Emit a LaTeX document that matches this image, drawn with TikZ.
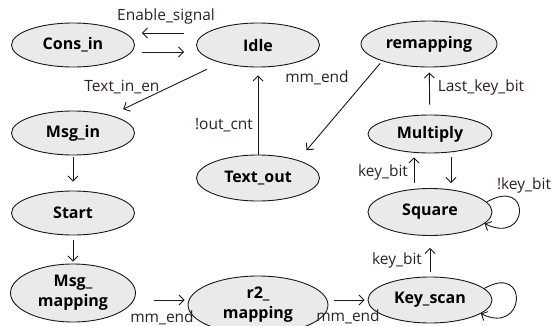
\documentclass[tikz,border=0pt]{standalone}
\usepackage{fontspec}
\setmainfont{Open Sans}
\usepackage{xcolor}
\definecolor{ColFill}{RGB}{234,234,234}
\definecolor{ColLine}{RGB}{25,25,25}
\definecolor{ColText}{RGB}{45,35,30}
\usepackage{tikz}
\usetikzlibrary{shapes.geometric}
\usetikzlibrary{arrows.meta}
\tikzstyle{State}=[ellipse,draw=ColLine,fill=ColFill,line width=0.9pt,
inner sep=0pt,minimum width=123pt,minimum height=44pt,align=center,
font=\fontsize{16}{20}\selectfont\bfseries]
\tikzstyle{Edge}=[draw=ColLine,line width=0.9pt,
-{Straight Barb[length=5pt,width=10pt]}]
\tikzstyle{EdgeLabel}=[font=\fontsize{15.5}{16}\selectfont,text=ColText,inner sep=0pt]

\begin{document}
\begin{tikzpicture}[x=1pt,y=-1pt]
    \useasboundingbox (0,0) rectangle (555,325);
        \node[State](cons)at(73,45){Cons\_in};
        \node[State](idle)at(258,45){Idle};
        \node[State,minimum width=136pt,minimum height=46pt](remap)at(429,44){remapping};
        \node[State](msgin)at(73,133){Msg\_in};
        \node[State,minimum height=46pt](textout)at(258,178){Text\_out};
        \node[State,minimum width=124pt,minimum height=38pt](multiply)at(430,134){Multiply};
        \node[State,minimum width=124pt,minimum height=47pt](square)at(430,212){Square};
        \node[State](start)at(73,213){Start};
        \node[State,minimum width=125pt,minimum height=58pt](msgmap)at(73,293){Msg\_\\mapping};
        \node[State,minimum width=140pt,minimum height=58pt](r2map)at(258,305){r2\_\\mapping};
        \node[State,minimum width=124pt,minimum height=46pt](keyscan)at(430,300){Key\_scan};
        % top row
        \draw[Edge]([xshift=-12pt,yshift=12pt]idle.west)--([xshift=7pt,yshift=12pt]cons.east);
        \draw[Edge]([xshift=7pt,yshift=-7pt]cons.east)--([xshift=-12pt,yshift=-7pt]idle.west);
        \draw[Edge,shorten <=15pt,shorten >=14pt](idle)--(msgin);
        \draw[Edge,shorten >=8pt](textout)--(idle);
        \draw[Edge,shorten <=3pt,shorten >=13pt](remap.200)--(textout.24);
        \draw[Edge,shorten <=10pt,shorten >=5pt](multiply)--(remap);
        % left column
        \draw[Edge,shorten <=2pt,shorten >=9pt](msgin)--(start);
        \draw[Edge,shorten <=5pt,shorten >=2pt](start)--(msgmap);
        % right column
        \draw[Edge,shorten <=5pt,shorten >=4pt]([xshift=-16pt]square.north)--([xshift=-16pt]multiply.south);
        \draw[Edge,shorten <=4pt,shorten >=5pt]([xshift=21pt]multiply.south)--([xshift=21pt]square.north);
        \draw[Edge,shorten <=5pt,shorten >=12pt](keyscan)--(square);
        \draw[Edge](square.10)..controls +(45,-26) and +(45,22)..(square.-12);
        \draw[Edge](keyscan.12)..controls +(45,-26) and +(45,22)..(keyscan.-15);
        % bottom row
        \draw[Edge,shorten <=18pt,shorten >=3pt](msgmap.east|-keyscan)--(r2map.west|-keyscan);
        \draw[Edge,shorten <=6pt,shorten >=3pt](r2map.east|-keyscan)--(keyscan.west);
        % labels
        \node[EdgeLabel](l1)at(166,16){Enable\_signal};
        \node[EdgeLabel](l2)at(122,87){Text\_in\_en};
        \node[EdgeLabel](l3)at(317,78){mm\_end};
        \node[EdgeLabel](l4)at(481,87){Last\_key\_bit};
        \node[EdgeLabel](l5)at(224,125){!out\_cnt};
        \node[EdgeLabel](l6)at(383,172){key\_bit};
        \node[EdgeLabel](l7)at(524,185){!key\_bit};
        \node[EdgeLabel](l8)at(397,260){key\_bit};
        \node[EdgeLabel](l9)at(162,318){mm\_end};
        \node[EdgeLabel](l10)at(348,317){mm\_end};
    \end{tikzpicture}
\end{document}
